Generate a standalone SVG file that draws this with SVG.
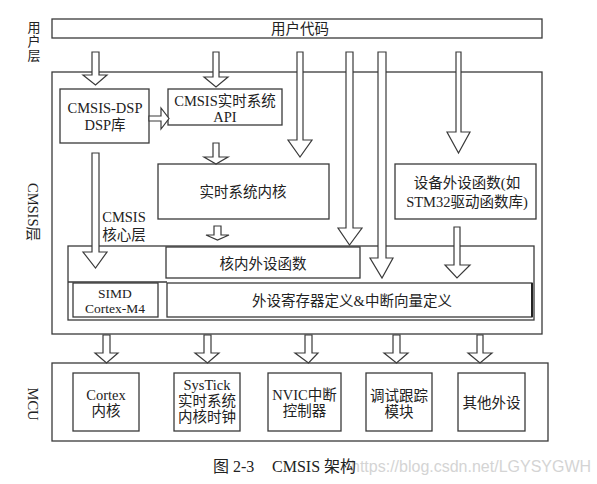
<svg xmlns="http://www.w3.org/2000/svg" width="597" height="484" viewBox="0 0 597 484">
<style>
.bx{fill:#fff;stroke:#3a3a3a;stroke-width:1.3}
.ar{fill:#fff;stroke:#3a3a3a;stroke-width:1.2;stroke-linejoin:miter}
text{font-family:"Liberation Serif","Noto Sans CJK SC",serif;font-size:14.5px;fill:#222;text-anchor:middle}
.sm{font-size:13px}
.xs{font-size:13.5px}
.cap{font-size:16px;text-anchor:start}
.wm{font-family:"Liberation Sans",Arial,sans-serif;font-size:16px;fill:#d4d4d4;text-anchor:start}
</style>
<rect width="597" height="484" fill="#fff"/>

<g id="layer-labels">
<text class="sm" x="34" y="32">用</text>
<text class="sm" x="34" y="46">户</text>
<text class="sm" x="34" y="60">层</text>
<text x="0" y="0" transform="translate(33,212) rotate(90)" dominant-baseline="central">CMSIS层</text>
<text x="0" y="0" transform="translate(33,404) rotate(90)" dominant-baseline="central">MCU</text>
</g>

<g id="user-code">
<rect class="bx" x="52" y="19" width="490" height="19"/>
<text x="300" y="34">用户代码</text>
</g>

<g id="cmsis-layer">
<rect class="bx" x="52" y="72" width="490" height="262"/>
</g>

<g id="cmsis-dsp">
<rect class="bx" x="60" y="89" width="89" height="54"/>
<text x="105" y="113">CMSIS-DSP</text>
<text x="105" y="130">DSP库</text>
</g>

<g id="rtos-api">
<rect class="bx" x="168" y="89" width="114" height="36"/>
<text x="225" y="106">CMSIS实时系统</text>
<text x="225" y="122">API</text>
</g>

<g id="rtos-kernel">
<rect class="bx" x="158" y="164" width="171" height="55"/>
<text x="243" y="197">实时系统内核</text>
</g>

<g id="device-peripheral">
<rect class="bx" x="395" y="164" width="141" height="55"/>
<text x="467" y="188">设备外设函数(如</text>
<text x="467" y="207">STM32驱动函数库)</text>
</g>

<g id="cmsis-core">
<rect class="bx" x="68" y="246" width="466" height="74"/>
<line x1="68" y1="282" x2="167" y2="282" stroke="#3a3a3a" stroke-width="1.3"/>
<text x="124" y="222">CMSIS</text>
<text x="124" y="240">核心层</text>
</g>

<g id="core-peripheral">
<rect class="bx" x="166" y="247" width="194" height="31"/>
<text x="263" y="269">核内外设函数</text>
</g>

<g id="simd">
<rect class="bx" x="73" y="283" width="85" height="34"/>
<text class="xs" x="115" y="298">SIMD</text>
<text class="xs" x="115" y="313">Cortex-M4</text>
</g>

<g id="register-def">
<rect class="bx" x="167" y="283" width="365" height="34"/>
<line x1="532" y1="283" x2="532" y2="317" stroke="#222" stroke-width="2"/>
<text x="352" y="306">外设寄存器定义&amp;中断向量定义</text>
</g>

<g id="mcu">
<rect class="bx" x="52" y="363" width="496" height="78"/>
</g>

<g id="cortex-core">
<rect class="bx" x="73" y="373" width="66" height="58"/>
<text x="106" y="400">Cortex</text>
<text x="106" y="416">内核</text>
</g>

<g id="systick">
<rect class="bx" x="174" y="373" width="66" height="58"/>
<text x="207" y="390">SysTick</text>
<text x="207" y="406">实时系统</text>
<text x="207" y="422">内核时钟</text>
</g>

<g id="nvic">
<rect class="bx" x="268" y="373" width="73" height="58"/>
<text x="304.5" y="400">NVIC中断</text>
<text x="304.5" y="416">控制器</text>
</g>

<g id="debug-trace">
<rect class="bx" x="366" y="373" width="66" height="58"/>
<text x="399" y="401">调试跟踪</text>
<text x="399" y="417">模块</text>
</g>

<g id="other-peripheral">
<rect class="bx" x="458" y="373" width="67" height="58"/>
<text x="491.5" y="408">其他外设</text>
</g>

<g id="connectors">
<polygon class="ar" points="92,52 99,52 99,75 107,75 95.5,85 83,75 92,75"/>
<polygon class="ar" points="213,52 219,52 219,77 228,77 216,87 204,77 213,77"/>
<polygon class="ar" points="297,52 303,52 303,140 312,140 300,157 288,140 297,140"/>
<polygon class="ar" points="346,52 353,52 353,228 362,228 349.5,245 338,228 346,228"/>
<polygon class="ar" points="378,52 386,52 386,258 393,258 382,278 370,258 378,258"/>
<polygon class="ar" points="456,52 461,52 461,132 470,132 458.5,153 447,132 456,132"/>
<polygon class="ar" points="92,153 99,153 99,252 107,252 95.5,268 83,252 92,252"/>
<polygon class="ar" points="213,143 219,143 219,157 228,157 216,164 204,157 213,157"/>
<polygon class="ar" points="214,226 221,226 221,235 229,235 217.5,240 206,235 214,235"/>
<polygon class="ar" points="454,227 460,227 460,265 470,265 457,278 445,265 454,265"/>
<polygon class="ar" points="149,116 161,116 161,108 169,118.5 161,129 161,121 149,121"/>
<polygon class="ar" points="103,335 110,335 110,353 118,353 106.5,363 95,353 103,353"/>
<polygon class="ar" points="204,335 211,335 211,353 219,353 207.5,363 195,353 204,353"/>
<polygon class="ar" points="305,335 312,335 312,353 318,353 308.5,363 295,353 305,353"/>
<polygon class="ar" points="393,335 400,335 400,353 408,353 396.5,363 384,353 393,353"/>
<polygon class="ar" points="477,335 483,335 483,353 492,353 480,363 468,353 477,353"/>
</g>

<g id="caption">
<text class="wm" x="351" y="472">https://blog.csdn.net/LGYSYGWH</text>
<text class="cap" x="213" y="472">图 2-3</text>
<text class="cap" x="272" y="472">CMSIS 架构</text>
</g>
</svg>
